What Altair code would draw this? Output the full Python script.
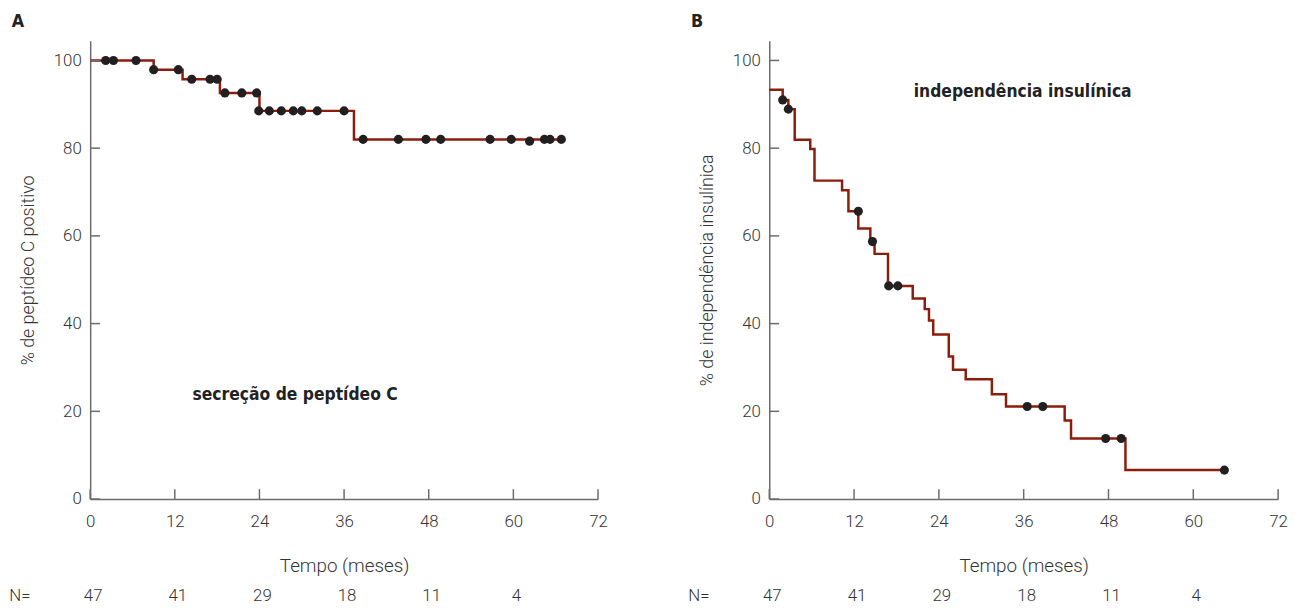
import altair as alt
import pandas as pd

# ---- Panel A: secreção de peptídeo C (Kaplan-Meier steps) ----
a_step_t = [0, 9.0, 13.1, 18.4, 24.0, 37.4, 66.8]
a_step_s = [100, 97.9, 95.7, 92.6, 88.5, 82.0, 82.0]
a_cens_t = [2.2, 3.3, 6.5, 9.0, 12.5, 14.4, 17.0, 18.0, 19.1, 21.5, 23.6, 23.9,
            25.4, 27.1, 28.8, 30.0, 32.2, 36.0, 38.7, 43.7, 47.6, 49.7, 56.7,
            59.7, 62.3, 64.4, 65.2, 66.8]
a_cens_s = [100, 100, 100, 97.9, 97.9, 95.7, 95.7, 95.7, 92.6, 92.6, 92.6, 88.5,
            88.5, 88.5, 88.5, 88.5, 88.5, 88.5, 82.0, 82.0, 82.0, 82.0, 82.0,
            82.0, 81.6, 82.0, 82.0, 82.0]

# ---- Panel B: independência insulínica ----
b_step_t = [0, 1.9, 2.7, 3.6, 5.8, 6.4, 10.3, 11.2, 12.6, 14.3, 14.9, 16.8, 20.3,
            22.0, 22.6, 23.2, 25.4, 26.0, 27.8, 31.5, 33.5, 41.8, 42.7, 50.4, 64.4]
b_step_s = [93.3, 91.0, 88.9, 81.9, 79.8, 72.6, 70.4, 65.6, 61.7, 58.7, 55.9, 48.6,
            45.7, 43.3, 40.7, 37.5, 32.5, 29.5, 27.3, 23.9, 21.1, 17.9, 13.8, 6.6, 6.6]
b_cens_t = [1.9, 2.7, 12.6, 14.6, 16.9, 18.2, 36.5, 38.7, 47.6, 49.8, 64.4]
b_cens_s = [91.0, 88.9, 65.6, 58.7, 48.6, 48.6, 21.1, 21.1, 13.8, 13.8, 6.6]

x_ticks = [0, 12, 24, 36, 48, 60, 72]
y_ticks = [0, 20, 40, 60, 80, 100]
n_months = [0, 12, 24, 36, 48, 60]
n_labels = ["47", "41", "29", "18", "11", "4"]

H = 463
LINE = "#8c1c0c"
DOT = "#231f20"
AXC = "#6b6b6b"
LAB = "#333333"
LIGHT = "Roboto"
COND = "'Liberation Sans Narrow', 'DejaVu Sans Condensed', 'Roboto Condensed', sans-serif"


def panel(step_t, step_s, cens_t, cens_s, W, ytitle, letter, label, lab_x, lab_y):
    xs = alt.Scale(domain=[0, 72], nice=False, zero=False)
    ys = alt.Scale(domain=[0, 104.5], nice=False)
    steps = pd.DataFrame({"t": step_t, "s": step_s})
    cens = pd.DataFrame({"t": cens_t, "s": cens_s})
    xt = pd.DataFrame({"v": x_ticks})
    yt = pd.DataFrame({"v": y_ticks})
    nd = pd.DataFrame({"m": n_months, "n": n_labels})

    xaxis = alt.Axis(values=x_ticks, ticks=False, tickSize=0, grid=False,
                     domainColor=AXC, domainWidth=1.5, labelFont=LIGHT,
                     labelFontWeight=300, labelFontSize=17, labelColor=LAB,
                     labelPadding=15, title="Tempo (meses)", titleFont=LIGHT,
                     titleFontWeight=300, titleFontSize=19, titleColor=LAB,
                     titlePadding=27, labelFlush=False)
    yaxis = alt.Axis(values=y_ticks, ticks=False, tickSize=0, grid=False,
                     domainColor=AXC, domainWidth=1.5, labelFont=LIGHT,
                     labelFontWeight=300, labelFontSize=17, labelColor=LAB,
                     labelPadding=9, title=ytitle, titleFont=LIGHT,
                     titleFontWeight=300, titleFontSize=18, titleColor=LAB,
                     titlePadding=16)

    line = alt.Chart(steps).mark_line(interpolate="step-after", color=LINE,
                                      strokeWidth=2.5).encode(
        x=alt.X("t:Q", scale=xs, axis=xaxis),
        y=alt.Y("s:Q", scale=ys, axis=yaxis),
    )
    dots = alt.Chart(cens).mark_circle(color=DOT, opacity=1, size=85).encode(
        x="t:Q", y="s:Q")
    xtick = alt.Chart(xt).mark_rule(color=AXC, strokeWidth=1.5).encode(
        x="v:Q", y=alt.value(H), y2=alt.value(H - 10))
    ytick = alt.Chart(yt).mark_rule(color=AXC, strokeWidth=1.5).encode(
        y="v:Q", x=alt.value(0), x2=alt.value(10))
    ntext = alt.Chart(nd).mark_text(font=LIGHT, fontWeight=300, fontSize=17,
                                    color=LAB, baseline="middle", dx=3).encode(
        x="m:Q", y=alt.value(H + 98), text="n:N")
    nlab = alt.Chart(pd.DataFrame({"k": ["N="]})).mark_text(
        font=LIGHT, fontWeight=300, fontSize=17, color=LAB, baseline="middle").encode(
        x=alt.value(-71), y=alt.value(H + 98), text="k:N")
    let = alt.Chart(pd.DataFrame({"k": [letter]})).mark_text(
        font=COND, fontWeight="bold", fontSize=18, color="#222", baseline="middle").encode(
        x=alt.value(-73), y=alt.value(-19), text="k:N")
    lab = alt.Chart(pd.DataFrame({"k": [label]})).mark_text(
        font=COND, fontWeight="bold", fontSize=17.5, color="#222", baseline="middle").encode(
        x=alt.value(lab_x), y=alt.value(lab_y), text="k:N")
    return alt.layer(line, xtick, ytick, dots, ntext, nlab, let, lab).properties(
        width=W, height=H)


pa = panel(a_step_t, a_step_s, a_cens_t, a_cens_s, 513,
           "% de peptídeo C positivo", "A", "secreção de peptídeo C", 207, 358)
pb = panel(b_step_t, b_step_s, b_cens_t, b_cens_s, 514,
           "% de independência insulínica", "B", "independência insulínica", 256, 52)

chart = alt.hconcat(pa, pb, spacing=173, bounds="flush").properties(
    padding={"left": 1, "top": 2, "right": 0, "bottom": 0},
    background="white",
).configure_view(stroke=None)

chart.save("out.html", embed_options={"renderer": "svg", "actions": False})
